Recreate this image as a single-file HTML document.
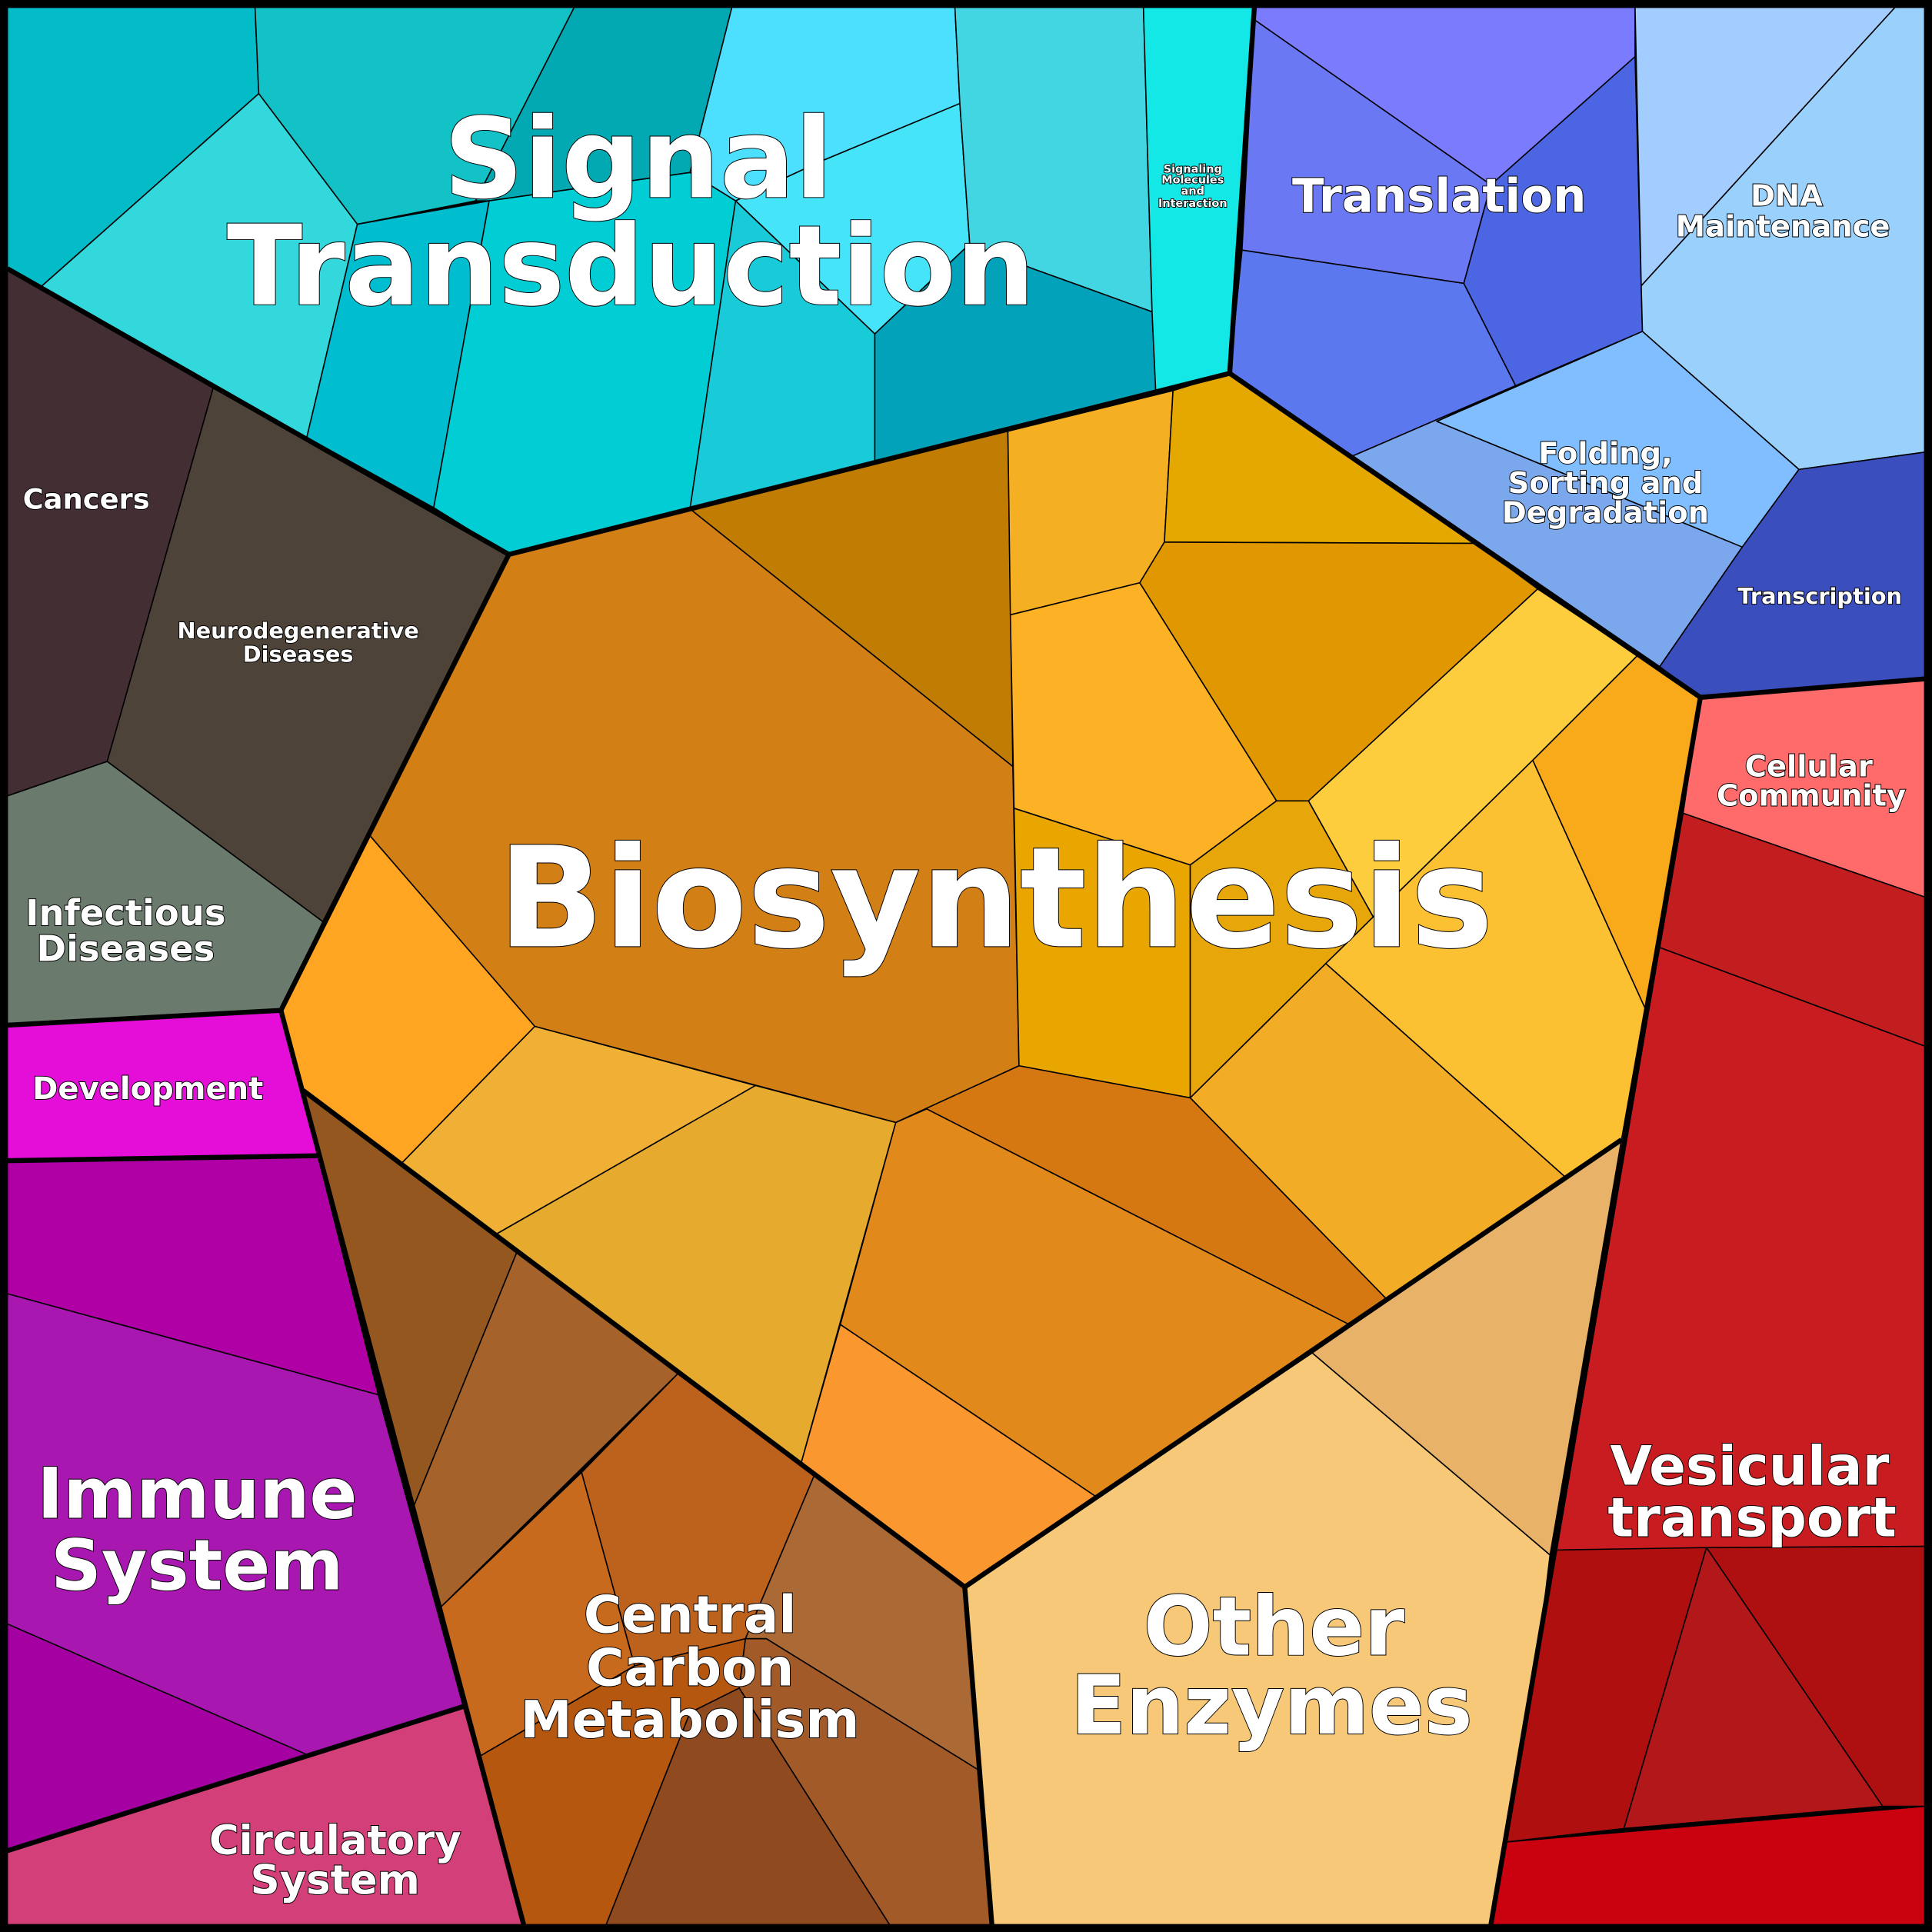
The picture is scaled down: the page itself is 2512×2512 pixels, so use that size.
<!DOCTYPE html>
<html><head><meta charset="utf-8"><style>
html,body{margin:0;padding:0;background:#000}
svg{display:block}
text{font-family:"DejaVu Sans","Liberation Sans",sans-serif;font-weight:bold;fill:#fff;stroke:#000;stroke-width:1.2;paint-order:stroke;text-anchor:middle}
</style></head><body>
<svg width="2512" height="2512" viewBox="0 0 1568 1568" xmlns="http://www.w3.org/2000/svg">
<rect x="0" y="0" width="1568" height="1568" fill="#000"/>
<g stroke="#000" stroke-width="1" stroke-linejoin="round">
<polygon fill="#03BCC8" points="6,6 207,6 210,76 33,233 6,218"/>
<polygon fill="#12C2C6" points="207,6 466,6 386,163 290,182 210,76"/>
<polygon fill="#02A9B2" points="466,6 594,6 560,140 397,163 386,163"/>
<polygon fill="#4DE0FE" points="594,6 775,6 779,84 666,131 597,163 560,140"/>
<polygon fill="#46E4F8" points="779,84 787,198 710,271 597,163 666,131"/>
<polygon fill="#42D6E3" points="775,6 928,6 935,253 838,218 787,198 779,84"/>
<polygon fill="#32D8DC" points="33,233 210,76 290,182 249,355 6,218"/>
<polygon fill="#00BED0" points="290,182 397,163 352,412 249,355"/>
<polygon fill="#00CDD4" points="397,163 560,140 597,163 560,413 413,450 352,412"/>
<polygon fill="#19CBD8" points="597,163 710,271 710,375 560,413"/>
<polygon fill="#03A2BB" points="710,271 787,198 838,218 935,253 938,318 710,375"/>
<polygon fill="#14E8E6" points="928,6 1018,6 998,303 938,318 935,253"/>
<polygon fill="#7B7BFE" points="1018,6 1327,6 1327,46 1210,150 1018,16"/>
<polygon fill="#6A78F4" points="1018,16 1210,150 1188,230 1008,203"/>
<polygon fill="#4C66E3" points="1210,150 1327,46 1333,269 1230,313 1188,230"/>
<polygon fill="#5B78EE" points="1008,203 1188,230 1230,313 1098,370 998,303"/>
<polygon fill="#A3CDFE" points="1327,6 1538,6 1332,232"/>
<polygon fill="#9AD1FC" points="1538,6 1562,6 1562,367 1460,381 1333,269 1332,232"/>
<polygon fill="#80BEFF" points="1333,269 1460,381 1414,444 1166,342"/>
<polygon fill="#7BA8EC" points="1166,342 1414,444 1347,541 1098,370 1230,313"/>
<polygon fill="#3B4EBD" points="1460,381 1562,367 1562,551 1380,566 1347,541 1414,444"/>
<polygon fill="#422E33" points="6,218 173,315 87,618 6,646"/>
<polygon fill="#4E4339" points="173,315 413,450 262,748 87,618"/>
<polygon fill="#6A7A6C" points="6,646 87,618 262,748 228,820 6,832"/>
<polygon fill="#E50DD8" points="6,832 228,820 258,938 6,942"/>
<polygon fill="#B000A5" points="6,942 258,938 307,1132 6,1050"/>
<polygon fill="#A817B0" points="6,1050 307,1132 376,1385 249,1424 6,1318"/>
<polygon fill="#A500A2" points="6,1318 249,1424 6,1502"/>
<polygon fill="#D34079" points="6,1502 376,1385 425,1562 6,1562"/>
<polygon fill="#94571F" points="246,885 420,1015 336,1222"/>
<polygon fill="#A5622A" points="420,1015 551,1114 357,1305 336,1222"/>
<polygon fill="#BD621D" points="551,1114 661,1197 605,1330 515,1352 472,1195"/>
<polygon fill="#C86A1E" points="357,1305 472,1195 515,1352 390,1425"/>
<polygon fill="#B5570F" points="390,1425 515,1352 605,1330 600,1370 560,1390 492,1562 425,1562"/>
<polygon fill="#8F4A20" points="492,1562 560,1390 600,1370 722,1562"/>
<polygon fill="#AA6935" points="661,1197 783,1288 795,1437 622,1330 605,1330"/>
<polygon fill="#A35A29" points="622,1330 795,1437 805,1562 722,1562 600,1370 605,1330"/>
<polygon fill="#F6C878" points="783,1288 1065,1098 1258,1262 1222,1562 805,1562"/>
<polygon fill="#E8B268" points="1065,1098 1316,925 1258,1262"/>
<polygon fill="#FF6B6B" points="1380,566 1562,551 1562,728 1366,660"/>
<polygon fill="#C21D1F" points="1366,660 1562,728 1562,849 1347,769"/>
<polygon fill="#C81C20" points="1347,769 1562,849 1562,1255 1262,1258 1316,925"/>
<polygon fill="#AF0F0E" points="1262,1258 1385,1256 1318,1484 1222,1495"/>
<polygon fill="#B2171A" points="1385,1256 1528,1466 1318,1484"/>
<polygon fill="#AE1011" points="1385,1256 1562,1255 1562,1466 1528,1466"/>
<polygon fill="#CA0210" points="1222,1495 1562,1466 1562,1562 1210,1562"/>
<polygon fill="#D27F15" points="413,450 560,413 822,622 827,865 727,911 434,833 300,678"/>
<polygon fill="#C17C03" points="560,413 818,350 822,622"/>
<polygon fill="#F4B022" points="818,350 952,317 945,440 925,473 820,499"/>
<polygon fill="#E4A800" points="952,317 998,303 1198,441 945,440"/>
<polygon fill="#E09700" points="945,440 1198,441 1248,478 1062,650 1036,650 925,473"/>
<polygon fill="#FDB226" points="820,499 925,473 1036,650 966,702 823,656"/>
<polygon fill="#E9A600" points="823,656 966,702 966,891 827,865"/>
<polygon fill="#E7A60A" points="966,702 1036,650 1062,650 1115,745 1076,782 966,891"/>
<polygon fill="#FDCD3E" points="1062,650 1248,478 1329,532 1244,617 1076,782 1115,745"/>
<polygon fill="#FCC133" points="1076,782 1244,617 1335,818 1316,925 1270,955"/>
<polygon fill="#F9AA1A" points="1329,532 1380,566 1335,818 1244,617"/>
<polygon fill="#F3AC26" points="966,891 1076,782 1270,955 1126,1055"/>
<polygon fill="#D57812" points="727,911 827,865 966,891 1126,1055 1095,1075 752,900"/>
<polygon fill="#E2891B" points="752,900 1095,1075 890,1215 682,1075 727,911"/>
<polygon fill="#FA972E" points="682,1075 890,1215 783,1288 650,1188"/>
<polygon fill="#E6AA2E" points="402,1002 613,881 727,911 650,1188"/>
<polygon fill="#EFB035" points="326,944 434,833 613,881 402,1002"/>
<polygon fill="#FFA522" points="228,820 300,678 434,833 326,944 246,885"/>
</g>
<g fill="none" stroke="#000" stroke-width="4" stroke-linejoin="round">
<polyline points="6,218 413,450 998,303 1018,6"/>
<polyline points="998,303 1380,566 1562,551"/>
<polyline points="413,450 228,820 6,832"/>
<polyline points="228,820 425,1562"/>
<polyline points="258,938 6,942"/>
<polyline points="376,1385 6,1502"/>
<polyline points="246,885 783,1288 805,1562"/>
<polyline points="783,1288 1316,925"/>
<polyline points="1380,566 1210,1562"/>
<rect x="3" y="3" width="1562" height="1562"/>
</g>
<text x="518" y="160" font-size="90">Signal</text>
<text x="512" y="247" font-size="90">Transduction</text>
<text x="808" y="768" font-size="113" stroke-width="1.5">Biosynthesis</text>
<text x="1168" y="172" font-size="38">Translation</text>
<text x="1450" y="167" font-size="24">DNA</text>
<text x="1447" y="192" font-size="24">Maintenance</text>
<g font-size="9" stroke-width="0.4">
<text x="968" y="140">Signaling</text><text x="968" y="149">Molecules</text><text x="968" y="158">and</text><text x="968" y="168">Interaction</text>
</g>
<text x="1303" y="376" font-size="24">Folding,</text>
<text x="1303" y="400" font-size="24">Sorting and</text>
<text x="1303" y="424" font-size="24">Degradation</text>
<text x="1477" y="490" font-size="18" stroke-width="0.8">Transcription</text>
<text x="70" y="413" font-size="23" stroke-width="0.8">Cancers</text>
<text x="242" y="518" font-size="18" stroke-width="0.7">Neurodegenerative</text>
<text x="242" y="537" font-size="18" stroke-width="0.7">Diseases</text>
<text x="102" y="751" font-size="29">Infectious</text>
<text x="102" y="780" font-size="29">Diseases</text>
<text x="120" y="892" font-size="25">Development</text>
<text x="160" y="1232" font-size="57">Immune</text>
<text x="160" y="1290" font-size="57">System</text>
<text x="272" y="1505" font-size="33">Circulatory</text>
<text x="272" y="1537" font-size="33">System</text>
<text x="560" y="1325" font-size="42">Central</text>
<text x="560" y="1368" font-size="42">Carbon</text>
<text x="560" y="1410" font-size="42">Metabolism</text>
<text x="1034" y="1343" font-size="66">Other</text>
<text x="1032" y="1407" font-size="66">Enzymes</text>
<text x="1420" y="1205" font-size="44">Vesicular</text>
<text x="1422" y="1247" font-size="44">transport</text>
<text x="1468" y="630" font-size="24">Cellular</text>
<text x="1470" y="654" font-size="24">Community</text>
</svg>
</body></html>
